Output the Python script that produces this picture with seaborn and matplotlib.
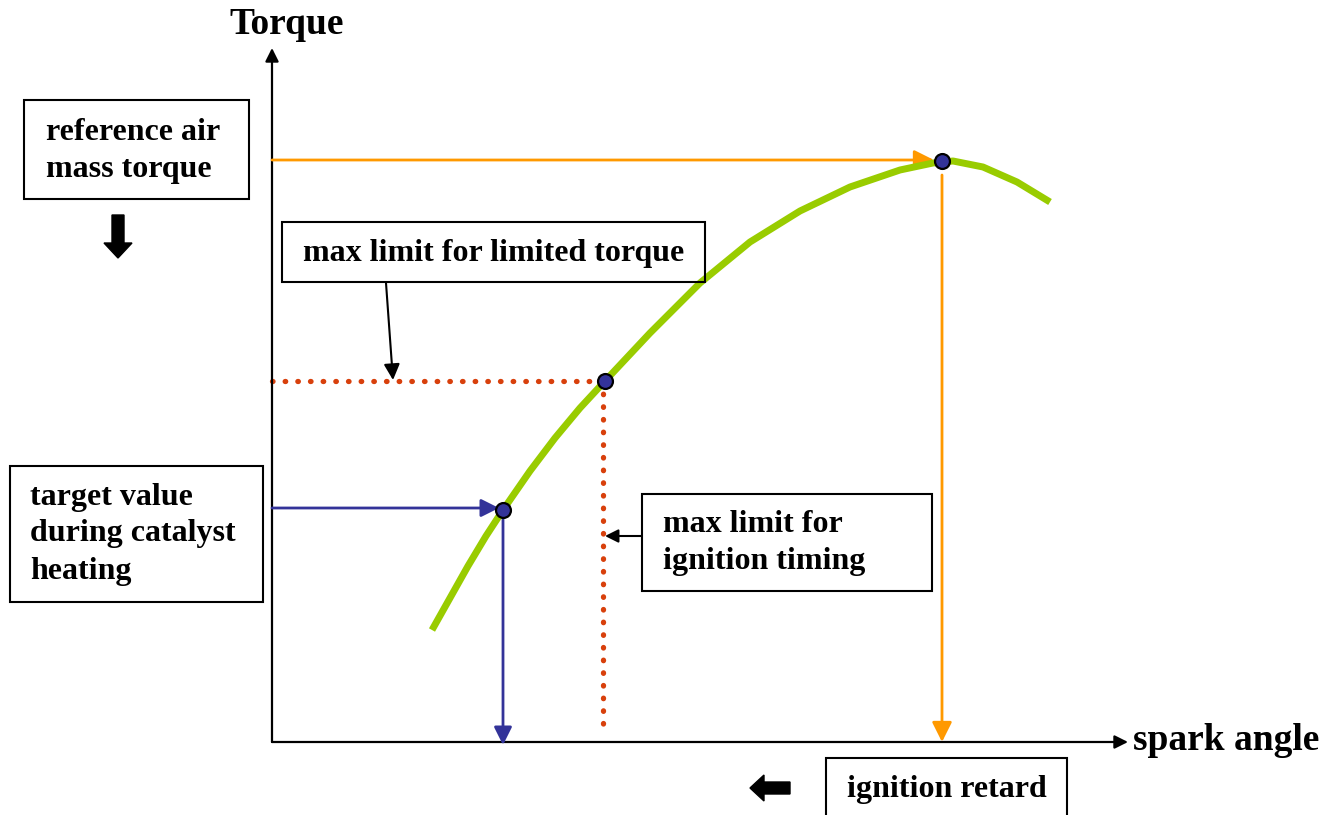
import seaborn as sns
import matplotlib.pyplot as plt
import pandas as pd
from matplotlib.patches import Rectangle

# torque curve over spark angle (arbitrary units, origin at the axis corner)
spark_angle = [160, 178, 196, 214, 231, 258, 283, 308, 333, 378, 428, 478,
               528, 578, 628, 661, 681, 711, 745, 778]
torque = [112, 144, 176, 206, 232, 271, 304, 334, 361, 409, 459, 500,
          531, 555, 572, 579, 581, 575, 560, 540]

# operating points on the curve
point_names = ["target", "limit", "optimum"]
point_spark = [231, 333, 670]
point_torque = [232, 361, 581]

axis_x_end = 856
axis_y_end = 694

green = "#99CC00"
orange = "#FF9900"
navy = "#333399"
red = "#D8400C"

sns.set_style("white")
plt.rcParams["font.family"] = ["Liberation Serif", "DejaVu Serif"]
plt.rcParams["font.weight"] = "bold"
plt.rcParams["text.color"] = "black"

curve = pd.DataFrame({"spark": spark_angle, "torque": torque})
pts = pd.DataFrame({"name": point_names, "spark": point_spark, "torque": point_torque})

fig = plt.figure(figsize=(13.36, 8.15), dpi=100)
ax = fig.add_axes([0, 0, 1, 1])
ax.set_xlim(-272, 1064)
ax.set_ylim(-73, 742)
ax.axis("off")

def arrow(start, tip, color, lw=1.5, scale=22):
    ax.annotate("", xy=tip, xytext=start,
                arrowprops=dict(arrowstyle="-|>", color=color, lw=lw,
                                mutation_scale=scale, shrinkA=0, shrinkB=0))

# axes with arrow heads
arrow((0, 0), (0, axis_y_end), "black", lw=1.6, scale=20)
arrow((0, 0), (axis_x_end, 0), "black", lw=1.6, scale=20)
ax.text(15, 718, "Torque", fontsize=27, ha="center", va="center")
ax.text(861, 1, "spark angle", fontsize=27, ha="left", va="center")

tx, ty = pts.loc[0, "spark"], pts.loc[0, "torque"]
lx, ly = pts.loc[1, "spark"], pts.loc[1, "torque"]
ox, oy = pts.loc[2, "spark"], pts.loc[2, "torque"]

# orange: reference air mass torque -> optimum spark angle
arrow((0, oy + 1), (ox - 8, oy + 1), orange, lw=2, scale=30)
arrow((ox, oy - 14), (ox, 0), orange, lw=2, scale=30)

# navy: catalyst heating target
arrow((0, ty + 2), (tx - 4, ty + 2), navy, lw=2, scale=27)
arrow((tx, ty), (tx, -3), navy, lw=2, scale=27)

# red dotted limits
ax.plot([0, lx], [ly, ly], color=red, lw=3.8, dashes=(0.1, 2.3),
        dash_capstyle="round", zorder=2)
ax.plot([lx - 2, lx - 2], [ly, 8], color=red, lw=3.8, dashes=(0.1, 2.3),
        dash_capstyle="round", zorder=2)

# torque curve
sns.lineplot(data=curve, x="spark", y="torque", color=green, lw=5,
             sort=False, ax=ax, zorder=3)
ax.lines[-1].set_solid_capstyle("butt")
ax.lines[-1].set_solid_joinstyle("round")
sns.scatterplot(data=pts, x="spark", y="torque", color=navy, s=115,
                edgecolor="black", linewidth=1.6, ax=ax, zorder=5)
ax.axis("off")

# label boxes
def box(x, y, w, h):
    ax.add_patch(Rectangle((x, y), w, h, fill=False, edgecolor="black",
                           lw=1.5, zorder=4, clip_on=True))

box(-248, 543, 225, 99)
ax.text(-226, 610, "reference air", fontsize=23, va="center")
ax.text(-226, 572, "mass torque", fontsize=23, va="center")

box(10, 460, 423, 60)
ax.text(31, 489, "max limit for limited torque", fontsize=23, va="center")
arrow((114, 459), (121, 362), "black", lw=1.5, scale=24)

box(-262, 140, 253, 136)
ax.text(-242, 245, "target value", fontsize=23, va="center")
ax.text(-242, 208, "during catalyst", fontsize=23, va="center")
ax.text(-242, 171, "heating", fontsize=23, va="center")

box(370, 151, 290, 97)
ax.text(391, 218, "max limit for", fontsize=23, va="center")
ax.text(391, 180, "ignition timing", fontsize=23, va="center")
arrow((370, 206), (333, 206), "black", lw=1.5, scale=20)

box(554, -90, 241, 74)
ax.text(575, -47, "ignition retard", fontsize=23, va="center")

# block arrows for direction hints
ax.arrow(-154, 527, 0, -43, width=12, head_width=28, head_length=15,
         length_includes_head=True, color="black")
ax.arrow(518, -46, -40, 0, width=12, head_width=26, head_length=14,
         length_includes_head=True, color="black")

fig.savefig("out.png", dpi=100)
